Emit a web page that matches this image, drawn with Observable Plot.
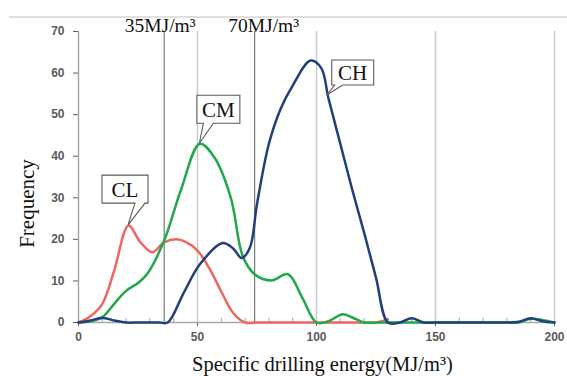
<!DOCTYPE html>
<html><head><meta charset="utf-8">
<script src="https://cdn.jsdelivr.net/npm/d3@7"></script>
<script src="https://cdn.jsdelivr.net/npm/@observablehq/plot@0.6"></script>
<style>body{margin:0;background:#fff}</style>
</head><body><div id="chart"></div>
<script>
// ---- data ----
const clEnergy = [0, 5, 10, 15, 21, 26, 31, 36, 41, 45, 50, 55, 60, 65, 70, 75, 80, 85, 90, 95, 100, 105, 110, 115, 120, 125, 130];
const clFreq   = [0, 1.5, 4.5, 12.5, 23.3, 19.3, 16.9, 19.3, 20, 19.4, 17.3, 13, 7.4, 2.3, 0, 0, 0, 0, 0, 0, 0, 0, 0, 0, 0, 0, 0.8];

const cmEnergy = [0, 5, 10, 15, 20, 25, 29, 36, 43, 51, 57, 64, 69, 74, 81, 88, 94, 100, 105, 111, 115, 120, 125, 130, 135, 140, 145, 150, 155, 160, 165, 170, 175, 180, 185, 190, 195, 200];
const cmFreq   = [0, 0.3, 1.3, 4.5, 7.6, 9.5, 11.8, 19.7, 31.8, 43, 39.8, 30, 16, 11.6, 10.1, 11.6, 6, 0, 0.3, 2, 1.2, 0, 0, 0, 0, 0, 0, 0, 0, 0, 0, 0, 0, 0, 0, 0.9, 0.6, 0];

const chEnergy = [0, 5, 10, 15, 20, 25, 30, 34, 37.5, 44, 51, 60.5, 65, 68.5, 72, 75, 80, 85, 90, 97.5, 102, 105, 110, 115, 120, 125, 130, 135, 140, 145, 150, 155, 160, 165, 170, 175, 180, 185, 190, 195, 200];
const chFreq   = [0, 0.5, 1.1, 0.5, 0, 0, 0, 0, 0, 6.9, 14, 19.1, 17.8, 15.5, 18, 28.5, 43, 51.5, 57, 63, 61.2, 54, 43, 32, 21.6, 10.8, 0, 0, 1, 0, 0, 0, 0, 0, 0, 0, 0, 0.2, 1, 0.3, 0];

const xTicks = [0, 50, 100, 150, 200];
const yTicks = [0, 10, 20, 30, 40, 50, 60, 70];
const gridTicks = [50, 100, 150, 200];
const minorTicks = [10, 20, 30, 40, 60, 70, 80, 90, 110, 120, 130, 140, 160, 170, 180, 190];
const thresholdPos = [36, 74];
const thresholdLabels = ["35MJ/m³", "70MJ/m³"];
const calloutLabels = ["CL", "CM", "CH"];
const calloutEnergy = [21, 51, 104.5];
const calloutFreq = [23.3, 43, 54.6];
const xLabel = "Specific drilling energy(MJ/m³)";
const yLabel = "Frequency";

// ---- build rows ----
const rows = (e, f) => e.map((x, i) => ({energy: x, freq: f[i]}));
const cl = rows(clEnergy, clFreq), cm = rows(cmEnergy, cmFreq), ch = rows(chEnergy, chFreq);

const serif = "'Liberation Serif', 'Times New Roman', serif";
// callout box geometry relative to its tip (px)
const boxGeom = [
  {left: -26, top: -50, w: 46, h: 28, t1: 7, t2: 17},
  {left: -2.5, top: -48, w: 43, h: 28, t1: 4, t2: 14},
  {left: 5, top: -35, w: 42, h: 25, t1: 8, t2: 16}
];

function annotationMark(index, scales, values, dims) {
  const g = d3.create("svg:g");
  g.append("line").attr("x1", 9).attr("x2", dims.width).attr("y1", 17).attr("y2", 17)
    .attr("stroke", "#d4d4d4").attr("stroke-width", 1.5);
  // y-axis title
  const fy = (dims.marginTop + dims.height - dims.marginBottom) / 2 + 27;
  g.append("text").attr("transform", `translate(26,${fy}) rotate(-90)`).attr("dy", "0.36em")
    .attr("text-anchor", "middle").attr("font-family", serif).attr("font-size", 21)
    .attr("font-weight", "normal").attr("fill", "#111").text(yLabel);
  calloutLabels.forEach((lab, i) => {
    const tx = scales.x(calloutEnergy[i]), ty = scales.y(calloutFreq[i]);
    const b = boxGeom[i];
    const L = tx + b.left, T = ty + b.top, R = L + b.w, B = T + b.h;
    const d = `M${L},${T}H${R}V${B}H${tx + b.t2}L${tx},${ty}L${tx + b.t1},${B}H${L}Z`;
    g.append("path").attr("d", d).attr("fill", "#fff").attr("stroke", "#5a5a5a").attr("stroke-width", 1.1);
    g.append("text").attr("x", (L + R) / 2).attr("y", (T + B) / 2).attr("dy", "0.36em")
      .attr("text-anchor", "middle").attr("font-family", serif).attr("font-size", 21)
      .attr("font-weight", "normal").attr("fill", "#111").text(lab);
  });
  return g.node();
}

const chart = Plot.plot({
  width: 567, height: 376,
  marginLeft: 78, marginRight: 13, marginTop: 31, marginBottom: 54,
  style: {fontFamily: "'Liberation Sans', Arial, sans-serif", fontSize: "12px", fontWeight: "bold", color: "#5a5a5a", background: "#fff"},
  x: {domain: [0, 200], ticks: xTicks, tickSize: 4, tickPadding: 6, label: null},
  y: {domain: [0, 70], ticks: yTicks, tickSize: 5, tickPadding: 9, label: null},
  marks: [
    Plot.ruleX(gridTicks, {stroke: "#c9c9c9", strokeWidth: 1.5}),
    Plot.ruleX(thresholdPos, {stroke: "#7a7a7a", strokeWidth: 1.2}),
    Plot.ruleX(minorTicks, {y1: 0, y2: 1, stroke: "#a8a8a8", strokeWidth: 1}),
    Plot.ruleX([0], {stroke: "#a8a8a8", strokeWidth: 1.5}),
    Plot.ruleY([0], {stroke: "#a8a8a8", strokeWidth: 1.5}),
    Plot.line(cl, {x: "energy", y: "freq", stroke: "#ee6660", strokeWidth: 2.5, curve: "catmull-rom"}),
    Plot.line(cm, {x: "energy", y: "freq", stroke: "#20a84a", strokeWidth: 2.5, curve: "catmull-rom"}),
    Plot.line(ch, {x: "energy", y: "freq", stroke: "#213f7c", strokeWidth: 2.5, curve: "catmull-rom"}),
    Plot.text([thresholdLabels[0]], {x: [thresholdPos[0]], frameAnchor: "top", lineAnchor: "bottom", dx: -4, dy: 0,
      fontFamily: serif, fontSize: 19.5, fontWeight: "normal", fill: "#111"}),
    Plot.text([thresholdLabels[1]], {x: [thresholdPos[1]], frameAnchor: "top", lineAnchor: "bottom", dx: 9, dy: 0,
      fontFamily: serif, fontSize: 19.5, fontWeight: "normal", fill: "#111"}),
    Plot.text([xLabel], {frameAnchor: "bottom", lineAnchor: "middle", dx: 6, dy: 42,
      fontFamily: serif, fontSize: 20.5, fontWeight: "normal", fill: "#111"}),
    annotationMark
  ]
});
document.getElementById("chart").appendChild(chart);
</script>
</body></html>
